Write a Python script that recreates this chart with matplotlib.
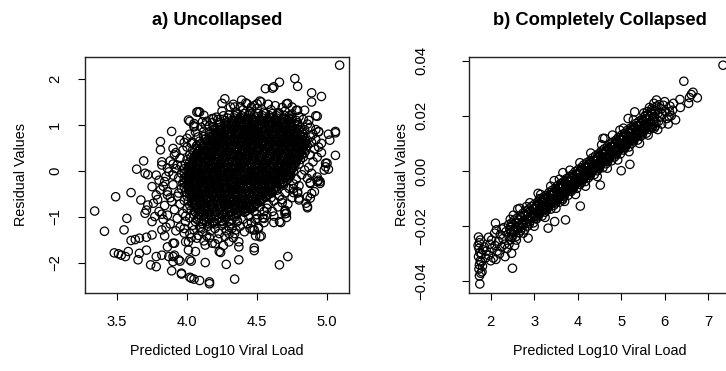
import numpy as np
import matplotlib
matplotlib.use("Agg")
import matplotlib.pyplot as plt

plt.rcParams["font.family"] = ["Liberation Sans", "DejaVu Sans"]

# ---------------- panel a: uncollapsed ----------------
# dense core of the cloud: one row per residual level,
# predicted values in hundredths of a log10 unit
a_core_y = [-1.15, -1.10, -1.05, -1.00, -0.95, -0.90, -0.85, -0.80, -0.75, -0.70,
            -0.65, -0.60, -0.55, -0.50, -0.45, -0.40, -0.35, -0.30, -0.25, -0.20,
            -0.15, -0.10, -0.05, 0.00, 0.05, 0.10, 0.15, 0.20, 0.25, 0.30,
            0.35, 0.40, 0.45, 0.50, 0.55, 0.60, 0.65, 0.70, 0.75, 0.80,
            0.85, 0.90, 0.95, 1.00, 1.05, 1.10, 1.15, 1.20, 1.25]
a_core_x = [
    [411, 416, 420, 426],
    [410, 414, 419, 425, 430],
    [407, 412, 416, 422, 427, 432],
    [408, 413, 417, 423, 428, 434],
    [405, 409, 415, 420, 425, 431, 435],
    [406, 411, 416, 421, 427, 431, 436, 441],
    [403, 408, 412, 418, 423, 428, 434, 438, 443],
    [405, 410, 415, 419, 425, 430, 435, 441, 445],
    [402, 406, 411, 417, 422, 427, 433, 437, 442, 448],
    [404, 409, 413, 419, 424, 429, 435, 439, 444, 450],
    [401, 406, 410, 416, 421, 426, 432, 436, 441, 447, 452],
    [403, 408, 413, 417, 423, 428, 433, 438, 444, 449, 454],
    [400, 404, 409, 415, 420, 425, 431, 435, 440, 446, 451, 456],
    [402, 407, 411, 417, 422, 427, 433, 437, 442, 448, 453, 458],
    [399, 403, 408, 414, 419, 424, 430, 434, 439, 445, 450, 455, 460],
    [401, 406, 410, 416, 421, 426, 432, 436, 441, 447, 452, 457, 462],
    [398, 402, 407, 413, 418, 423, 429, 433, 438, 444, 449, 454, 459, 464],
    [400, 405, 409, 415, 420, 425, 431, 435, 440, 446, 451, 456, 461, 466],
    [398, 402, 407, 413, 418, 423, 429, 433, 438, 444, 449, 454, 459, 464, 469],
    [400, 405, 409, 415, 420, 425, 431, 435, 440, 446, 451, 456, 462, 466, 471],
    [398, 402, 407, 413, 418, 423, 429, 433, 438, 444, 449, 454, 460, 465, 470],
    [400, 405, 410, 414, 420, 425, 430, 436, 440, 445, 451, 456, 461, 466, 471, 474],
    [398, 403, 407, 413, 418, 423, 429, 433, 438, 444, 449, 454, 460, 464, 469, 474],
    [400, 405, 410, 414, 420, 425, 430, 436, 440, 445, 451, 456, 461, 467, 471, 476],
    [398, 403, 407, 413, 418, 423, 429, 433, 438, 444, 449, 454, 460, 465, 470, 475],
    [401, 406, 411, 415, 421, 426, 431, 437, 441, 446, 452, 457, 462, 468, 472, 477],
    [399, 404, 408, 414, 419, 424, 430, 434, 439, 445, 450, 455, 461, 466, 471, 476, 480],
    [402, 407, 412, 416, 422, 427, 432, 438, 442, 447, 453, 458, 463, 469, 473, 478],
    [400, 405, 409, 415, 420, 425, 431, 435, 440, 446, 451, 456, 462, 467, 472, 477, 481],
    [403, 408, 413, 417, 423, 428, 433, 439, 443, 448, 454, 459, 464, 470, 474, 479, 483],
    [402, 407, 411, 417, 422, 427, 433, 437, 442, 448, 453, 458, 464, 468, 473, 478, 482],
    [405, 410, 415, 419, 425, 430, 435, 441, 445, 450, 456, 461, 466, 472, 476, 481, 484],
    [404, 409, 413, 419, 424, 429, 435, 439, 444, 450, 455, 460, 466, 470, 475, 480, 485],
    [407, 412, 417, 421, 427, 432, 437, 443, 447, 452, 458, 463, 468, 474, 478, 483],
    [407, 412, 416, 422, 427, 432, 438, 442, 447, 453, 458, 463, 469, 473, 478, 483, 486],
    [410, 415, 420, 424, 430, 435, 440, 446, 450, 455, 461, 466, 471, 477, 481, 485],
    [409, 414, 418, 424, 429, 434, 440, 444, 449, 455, 460, 465, 471, 475, 480, 485],
    [413, 418, 423, 427, 433, 438, 443, 449, 453, 458, 464, 469, 474, 480, 484],
    [412, 417, 421, 427, 432, 437, 443, 447, 452, 458, 463, 468, 474, 478, 483],
    [416, 421, 426, 430, 436, 441, 446, 452, 456, 461, 467, 472, 477, 483],
    [416, 421, 425, 431, 436, 441, 447, 451, 456, 462, 467, 472, 478, 482],
    [419, 424, 429, 433, 439, 444, 449, 455, 459, 464, 470, 475, 480, 484],
    [419, 424, 428, 434, 439, 444, 450, 454, 459, 465, 470, 475, 481],
    [423, 428, 433, 437, 443, 448, 453, 459, 463, 468, 474, 479],
    [423, 428, 432, 438, 443, 448, 454, 458, 463, 469, 474, 479],
    [427, 432, 437, 441, 447, 452, 457, 463, 467, 472, 478],
    [429, 434, 438, 444, 449, 454, 460, 464, 469, 475],
    [434, 439, 444, 448, 454, 459, 464, 470, 473],
    [436, 441, 445, 451, 456, 461, 466],
]

# the darkest part of the cloud, rows lying between the ones above
a_dark_y = [-0.875, -0.825, -0.775, -0.725, -0.675, -0.625, -0.575, -0.525, -0.475, -0.425,
            -0.375, -0.325, -0.275, -0.225, -0.175, -0.125, -0.075, -0.025, 0.025, 0.075,
            0.125, 0.175, 0.225, 0.275, 0.325, 0.375, 0.425, 0.475, 0.525, 0.575,
            0.625, 0.675, 0.725, 0.775, 0.825, 0.875, 0.925, 0.975, 1.025, 1.075, 1.125]
a_dark_x = [
    [409, 415, 420, 426, 431, 437, 442],
    [408, 413, 419, 424, 430, 435, 440, 445],
    [407, 412, 418, 423, 429, 434, 439, 444, 448],
    [406, 411, 417, 422, 428, 433, 438, 443, 449],
    [405, 410, 416, 421, 427, 432, 437, 442, 448, 452],
    [404, 409, 415, 420, 426, 431, 436, 441, 447, 453],
    [404, 408, 414, 419, 425, 430, 435, 440, 446, 452, 456],
    [403, 408, 413, 418, 424, 429, 434, 439, 445, 451, 457],
    [403, 407, 413, 418, 423, 429, 434, 439, 444, 450, 455, 460],
    [402, 407, 412, 417, 423, 428, 433, 438, 444, 449, 455, 460],
    [402, 406, 412, 417, 422, 428, 433, 438, 443, 449, 454, 459, 463],
    [402, 406, 411, 416, 422, 427, 432, 438, 443, 448, 454, 459, 464],
    [401, 406, 411, 416, 421, 427, 432, 437, 443, 448, 453, 459, 464, 468],
    [401, 406, 410, 416, 421, 426, 432, 437, 442, 448, 453, 458, 463, 469],
    [401, 405, 410, 415, 421, 426, 431, 437, 442, 447, 453, 458, 463, 468, 472],
    [401, 406, 410, 415, 420, 426, 431, 436, 442, 447, 452, 458, 463, 468, 473],
    [401, 405, 410, 415, 420, 425, 431, 436, 441, 447, 452, 457, 463, 468, 473],
    [402, 406, 410, 415, 420, 425, 430, 436, 441, 446, 452, 457, 462, 468, 473],
    [402, 407, 411, 416, 421, 426, 432, 437, 442, 448, 453, 458, 464, 469, 474],
    [403, 407, 412, 417, 422, 427, 433, 438, 443, 449, 454, 459, 465, 470, 475],
    [403, 408, 412, 418, 423, 428, 434, 439, 444, 450, 455, 460, 466, 471, 476],
    [404, 408, 413, 418, 424, 429, 435, 440, 445, 450, 456, 461, 466, 472, 477],
    [405, 409, 414, 419, 425, 430, 436, 441, 446, 451, 457, 462, 467, 473, 478],
    [405, 410, 415, 420, 426, 431, 436, 442, 447, 452, 458, 463, 468, 474, 479],
    [406, 411, 416, 421, 426, 432, 437, 443, 448, 453, 459, 464, 469, 474, 480],
    [407, 412, 417, 422, 427, 433, 438, 443, 449, 454, 459, 465, 470, 475, 480],
    [408, 413, 418, 423, 428, 434, 439, 444, 450, 455, 460, 466, 471, 476, 481],
    [409, 414, 419, 424, 430, 435, 440, 445, 451, 456, 461, 467, 472, 477, 482],
    [411, 416, 421, 426, 431, 436, 442, 447, 452, 458, 463, 468, 473, 478, 483],
    [412, 417, 422, 427, 433, 438, 443, 448, 454, 459, 464, 469, 475, 480, 484],
    [414, 419, 424, 429, 434, 439, 445, 450, 455, 460, 466, 471, 476, 481],
    [415, 420, 426, 431, 436, 441, 446, 452, 457, 462, 467, 473, 478, 482],
    [417, 422, 427, 433, 438, 443, 448, 453, 459, 464, 469, 474, 479],
    [419, 424, 429, 434, 440, 445, 450, 455, 461, 466, 471, 476, 481],
    [421, 426, 431, 437, 442, 447, 452, 457, 463, 468, 473, 478],
    [423, 428, 433, 439, 444, 449, 454, 459, 465, 470, 475, 480],
    [425, 430, 436, 441, 446, 451, 456, 462, 467, 472, 477],
    [428, 433, 438, 443, 448, 454, 459, 464, 469, 474, 479],
    [430, 435, 441, 446, 451, 456, 461, 467, 472, 477],
    [433, 438, 443, 449, 454, 459, 464, 469, 474],
    [437, 442, 447, 452, 458, 463, 468, 473],
]

# thinner ring of points around the core
a_fringe = [
    (3.88, 0.22), (3.92, 0.05), (3.95, 0.28), (3.87, -0.02), (3.94, -0.15), (3.90, -0.30),
    (3.96, -0.38), (3.86, -0.45), (3.93, -0.55), (3.89, -0.66), (3.95, -0.72), (3.84, -0.75),
    (3.91, -0.84), (3.97, -0.92), (3.86, -0.96), (3.93, -1.03), (3.99, -1.10), (3.88, -1.15),
    (3.95, -1.22), (3.83, -1.05), (3.80, -0.88), (3.79, -0.62), (3.83, -0.33), (3.85, -0.12),
    (3.80, -0.20), (3.96, 0.12), (3.92, 0.40), (3.88, -0.58), (3.82, -0.94), (3.92, -1.30),
    (3.98, -1.35), (3.85, -1.22), (3.76, -0.70), (3.78, -0.52), (3.94, -0.48), (3.96, -0.05),
    (3.90, 0.15), (3.98, -1.25),
    (4.04, -1.18), (4.09, -1.22), (4.15, -1.20), (4.20, -1.25), (4.25, -1.18), (4.32, -1.15),
    (4.38, -1.20), (4.43, -1.14), (4.05, -1.28), (4.11, -1.32), (4.17, -1.30), (4.23, -1.36),
    (4.28, -1.30), (4.35, -1.28), (4.41, -1.32), (4.08, -1.40), (4.16, -1.45), (4.22, -1.48),
    (4.27, -1.42), (4.33, -1.45), (4.12, -1.52), (4.20, -1.58), (4.26, -1.62), (4.03, -1.45),
    (4.40, -1.05), (4.46, -1.12), (4.44, -0.98), (4.19, -1.12), (4.25, -1.08),
    (4.50, -0.95), (4.55, -0.88), (4.58, -0.72), (4.62, -0.65), (4.66, -0.55), (4.70, -0.48),
    (4.73, -0.38), (4.76, -0.28), (4.52, -0.78), (4.57, -0.96), (4.60, -0.58), (4.64, -0.42),
    (4.68, -0.62), (4.72, -0.72), (4.75, -0.58), (4.78, -0.18), (4.80, -0.32), (4.62, -0.98),
    (4.48, -0.88), (4.54, -1.02), (4.69, -0.30), (4.82, -0.08), (4.84, 0.02),
    (4.30, 1.22), (4.35, 1.28), (4.40, 1.33), (4.45, 1.30), (4.50, 1.36), (4.55, 1.28),
    (4.60, 1.33), (4.65, 1.27), (4.70, 1.30), (4.75, 1.24), (4.80, 1.18), (4.38, 1.40),
    (4.48, 1.42), (4.58, 1.45), (4.68, 1.38), (4.78, 1.32), (4.25, 1.30), (4.42, 1.48),
    (4.63, 1.42), (4.73, 1.15), (4.83, 1.12), (4.52, 1.52), (4.33, 1.45),
    (4.88, 0.95), (4.90, 0.80), (4.89, 0.62), (4.91, 0.48), (4.88, 0.35), (4.90, 0.20),
    (4.87, 0.08), (4.92, 0.68), (4.93, 0.30), (4.86, 1.02), (4.92, 0.90), (4.89, -0.05),
    (4.94, 0.52),
    (4.00, 0.52), (4.04, 0.62), (4.08, 0.74), (4.12, 0.86), (4.16, 0.98), (4.06, 0.85),
    (4.10, 0.95), (4.14, 1.08), (3.98, 0.62), (4.02, 0.80), (4.18, 1.05), (4.22, 1.12),
    (3.97, 0.45), (4.07, 0.55), (4.20, 0.92), (4.26, 1.20),
    (4.02, -1.02), (4.06, -1.10), (4.12, -1.06), (4.18, -1.14), (4.30, -1.22), (4.36, -1.08),
    (4.00, -0.82), (3.98, -0.64), (3.97, -0.26), (4.10, -1.24), (4.34, -1.36), (3.99, -0.98),
]

# isolated points outside the cloud
a_outliers = [
    (5.09, 2.30), (4.56, 1.79), (4.62, 1.83), (4.61, 1.80), (4.66, 1.93), (4.77, 2.01),
    (4.79, 1.84), (4.89, 1.70), (4.89, 1.50), (4.96, 1.62), (4.93, 1.19), (4.94, 0.85),
    (5.01, 0.80), (5.06, 0.83), (5.02, 0.67), (4.96, 0.60), (5.06, 0.34), (4.96, 0.40),
    (4.84, 1.32), (4.79, 1.32), (4.75, 1.39), (4.71, 1.46), (4.53, 1.50), (4.50, 1.46),
    (4.87, 1.10), (4.88, 0.74),
    (4.27, 1.57), (4.39, 1.54), (4.31, 1.39), (4.09, 1.28), (4.07, 1.28), (4.12, 1.21),
    (4.01, 1.11), (4.05, 1.03), (4.05, 0.98), (4.11, 1.07), (4.18, 1.14), (4.21, 1.17),
    (4.34, 1.39), (4.43, 1.46), (4.46, 1.39), (4.25, 1.47), (4.08, 1.29), (4.02, 1.08),
    (4.05, 0.96), (3.89, 0.86), (3.81, 0.64), (3.81, 0.46), (3.90, 0.49), (3.95, 0.67),
    (4.00, 0.71), (3.69, 0.22), (3.64, 0.04), (4.13, 1.00), (4.19, 1.14), (4.12, 0.75),
    (3.91, 0.35), (4.03, 0.60), (3.82, 0.20), (3.82, 0.13), (3.78, -0.09), (3.86, 0.06),
    (3.93, 0.13), (3.90, -0.09), (3.84, -0.23), (3.75, -0.34), (3.60, -0.47), (3.49, -0.56),
    (3.81, -0.41), (3.86, -0.52), (3.70, -0.05), (3.72, -0.08),
    (3.34, -0.87), (3.41, -1.31), (3.57, -1.03), (3.55, -1.28), (3.67, -0.63), (3.72, -0.74),
    (3.71, -0.85), (3.70, -0.92), (3.75, -1.10), (3.77, -0.99), (3.60, -1.51), (3.63, -1.49),
    (3.66, -1.46), (3.71, -1.44), (3.75, -1.39), (3.82, -1.28), (3.84, -1.41), (3.90, -1.57),
    (3.48, -1.78), (3.51, -1.80), (3.53, -1.83), (3.56, -1.86), (3.58, -1.75), (3.65, -1.93),
    (3.66, -1.79), (3.71, -1.72), (3.78, -1.86), (3.82, -1.83), (3.74, -2.04), (3.78, -2.08),
    (3.87, -1.86), (3.91, -1.83), (3.90, -1.97), (3.94, -1.93), (3.89, -2.17), (3.96, -2.22),
    (4.03, -2.33), (4.02, -1.93), (3.86, -1.65), (3.99, -1.54), (4.01, -1.72),
    (4.16, -2.41), (4.16, -2.45), (4.09, -2.38), (4.05, -2.35), (4.02, -2.31), (3.96, -2.24),
    (4.34, -2.35), (4.28, -2.03), (4.37, -1.93), (4.48, -1.73), (4.13, -1.99), (4.03, -1.96),
    (3.95, -1.96), (4.23, -1.75), (4.24, -1.77), (4.37, -1.65), (4.37, -1.54), (4.30, -1.54),
    (3.90, -1.86), (4.13, -1.61), (4.06, -1.75), (4.49, -1.41), (4.52, -1.43), (4.51, -1.25),
    (4.51, -1.22), (4.45, -1.25), (4.30, -1.36), (4.32, -1.25), (4.36, -1.10), (4.49, -1.05),
    (4.55, -1.03), (4.18, -1.57), (4.14, -1.41), (4.07, -1.46), (4.01, -1.54), (4.02, -1.36),
    (3.91, -1.57),
    (4.66, -2.04), (4.72, -1.86), (4.48, -1.28), (4.55, -1.12), (4.62, -1.12), (4.67, -1.12),
    (4.71, -1.01), (4.71, -0.92), (4.70, -0.85), (4.68, -0.69), (4.65, -0.78), (4.57, -0.81),
    (4.86, -0.80), (4.85, -0.70), (4.88, -0.59), (4.91, -0.45), (4.86, -0.56), (4.80, -0.59),
    (4.79, -0.48), (4.76, -0.38), (4.88, -0.25), (4.94, -0.20), (4.95, -0.27), (4.93, -0.13),
    (4.99, 0.09), (4.99, 0.17), (5.01, 0.04), (4.86, -0.16), (5.00, 0.17), (4.98, 0.02),
    (4.95, -0.23), (4.93, -0.23), (4.88, -0.27), (4.86, -0.77), (4.80, -0.63), (4.79, -0.45),
    (4.76, -0.47), (4.89, -0.49), (4.70, -0.88), (4.70, -0.93), (4.66, -1.10), (4.50, -1.03),
    (4.53, -1.41), (4.47, -1.28), (4.61, -0.88), (4.48, -1.67),
    (4.94, 0.86), (5.06, 0.86), (4.72, 1.47), (4.92, 1.20),
]

# ---------------- panel b: completely collapsed ----------------
b_core = [
    (2.41, -.0195), (2.42, -.0237), (2.44, -.0213), (2.45, -.0249), (2.46, -.0202), (2.47, -.0224), (2.48, -.0188), (2.49, -.0241),
    (2.50, -.0232), (2.51, -.0194), (2.53, -.0215), (2.54, -.0178), (2.55, -.0221), (2.57, -.0203), (2.58, -.0238), (2.59, -.0186),
    (2.61, -.0170), (2.62, -.0212), (2.64, -.0188), (2.65, -.0224), (2.66, -.0177), (2.67, -.0199), (2.68, -.0163), (2.69, -.0216),
    (2.70, -.0207), (2.71, -.0169), (2.73, -.0190), (2.74, -.0153), (2.75, -.0196), (2.77, -.0178), (2.78, -.0213), (2.79, -.0161),
    (2.81, -.0145), (2.82, -.0187), (2.84, -.0163), (2.85, -.0199), (2.86, -.0152), (2.87, -.0174), (2.88, -.0138), (2.89, -.0191),
    (2.90, -.0182), (2.91, -.0144), (2.93, -.0165), (2.94, -.0128), (2.95, -.0171), (2.97, -.0153), (2.98, -.0188), (2.99, -.0136),
    (3.01, -.0120), (3.02, -.0162), (3.04, -.0138), (3.05, -.0174), (3.06, -.0127), (3.07, -.0149), (3.08, -.0113), (3.09, -.0166),
    (3.10, -.0157), (3.11, -.0119), (3.13, -.0140), (3.14, -.0103), (3.15, -.0146), (3.17, -.0128), (3.18, -.0163), (3.19, -.0111),
    (3.21, -.0095), (3.22, -.0137), (3.24, -.0113), (3.25, -.0149), (3.26, -.0102), (3.27, -.0124), (3.28, -.0088), (3.29, -.0141),
    (3.30, -.0132), (3.31, -.0094), (3.33, -.0115), (3.34, -.0078), (3.35, -.0121), (3.37, -.0103), (3.38, -.0138), (3.39, -.0086),
    (3.41, -.0070), (3.42, -.0112), (3.44, -.0088), (3.45, -.0124), (3.46, -.0077), (3.47, -.0099), (3.48, -.0063), (3.49, -.0116),
    (3.50, -.0107), (3.51, -.0069), (3.53, -.0090), (3.54, -.0053), (3.55, -.0096), (3.57, -.0078), (3.58, -.0113), (3.59, -.0061),
    (3.61, -.0045), (3.62, -.0087), (3.64, -.0063), (3.65, -.0099), (3.66, -.0052), (3.67, -.0074), (3.68, -.0038), (3.69, -.0091),
    (3.70, -.0082), (3.71, -.0044), (3.73, -.0065), (3.74, -.0028), (3.75, -.0071), (3.77, -.0053), (3.78, -.0088), (3.79, -.0036),
    (3.81, -.0020), (3.82, -.0062), (3.84, -.0038), (3.85, -.0074), (3.86, -.0027), (3.87, -.0049), (3.88, -.0013), (3.89, -.0066),
    (3.90, -.0057), (3.91, -.0019), (3.93, -.0040), (3.94, -.0003), (3.95, -.0046), (3.97, -.0028), (3.98, -.0063), (3.99, -.0011),
    (4.01, .0005), (4.02, -.0037), (4.04, -.0013), (4.05, -.0049), (4.06, -.0002), (4.07, -.0024), (4.08, .0012), (4.09, -.0041),
    (4.10, -.0032), (4.11, .0006), (4.13, -.0015), (4.14, .0022), (4.15, -.0021), (4.17, -.0003), (4.18, -.0038), (4.19, .0014),
    (4.21, .0030), (4.22, -.0012), (4.24, .0012), (4.25, -.0024), (4.26, .0023), (4.27, .0001), (4.28, .0037), (4.29, -.0016),
    (4.30, -.0007), (4.31, .0031), (4.33, .0010), (4.34, .0047), (4.35, .0004), (4.37, .0022), (4.38, -.0013), (4.39, .0039),
    (4.41, .0055), (4.42, .0013), (4.44, .0037), (4.45, .0001), (4.46, .0048), (4.47, .0026), (4.48, .0062), (4.49, .0009),
    (4.50, .0018), (4.51, .0056), (4.53, .0035), (4.54, .0072), (4.55, .0029), (4.57, .0047), (4.58, .0012), (4.59, .0064),
    (4.61, .0080), (4.62, .0038), (4.64, .0062), (4.65, .0026), (4.66, .0073), (4.67, .0051), (4.68, .0087), (4.69, .0034),
    (4.70, .0043), (4.71, .0081), (4.73, .0060), (4.74, .0097), (4.75, .0054), (4.77, .0072), (4.78, .0037), (4.79, .0089),
    (4.81, .0105), (4.82, .0063), (4.84, .0087), (4.85, .0051), (4.86, .0098), (4.87, .0076), (4.88, .0112), (4.89, .0059),
    (4.90, .0068), (4.91, .0106), (4.93, .0085), (4.94, .0122), (4.95, .0079), (4.97, .0097), (4.98, .0062), (4.99, .0114),
    (5.01, .0130), (5.02, .0088), (5.04, .0112), (5.05, .0076), (5.06, .0123), (5.07, .0101), (5.08, .0137), (5.09, .0084),
    (5.10, .0093), (5.11, .0131), (5.13, .0110), (5.14, .0147), (5.15, .0104), (5.17, .0122), (5.18, .0087), (5.19, .0139),
    (5.21, .0155), (5.22, .0113), (5.24, .0137), (5.25, .0101), (5.26, .0148), (5.27, .0126), (5.28, .0162), (5.29, .0109),
    (5.30, .0118), (5.31, .0156), (5.33, .0135), (5.34, .0172), (5.35, .0129), (5.37, .0147), (5.38, .0112), (5.39, .0164),
    (5.41, .0180), (5.42, .0138), (5.44, .0162), (5.45, .0126), (5.46, .0173), (5.47, .0151), (5.48, .0187), (5.49, .0134),
    (5.50, .0143), (5.51, .0181), (5.53, .0160), (5.54, .0197), (5.55, .0154), (5.57, .0172), (5.58, .0137), (5.59, .0189),
    (5.61, .0205), (5.62, .0163), (5.64, .0187), (5.65, .0151), (5.66, .0198), (5.67, .0176), (5.68, .0212), (5.69, .0159),
    (5.70, .0168), (5.71, .0206), (5.73, .0185), (5.74, .0222), (5.75, .0179), (5.77, .0197), (5.78, .0162), (5.79, .0214),
]

# extra points in the thickest stretch of the band
b_dark = [
    (3.02, -.0134), (3.04, -.0165), (3.06, -.0124), (3.09, -.0152),
    (3.12, -.0121), (3.14, -.0152), (3.16, -.0111), (3.19, -.0139),
    (3.22, -.0109), (3.24, -.0140), (3.26, -.0099), (3.29, -.0127),
    (3.32, -.0096), (3.34, -.0127), (3.36, -.0086), (3.39, -.0114),
    (3.42, -.0084), (3.44, -.0115), (3.46, -.0074), (3.49, -.0102),
    (3.52, -.0071), (3.54, -.0102), (3.56, -.0061), (3.59, -.0089),
    (3.62, -.0059), (3.64, -.0090), (3.66, -.0049), (3.69, -.0077),
    (3.72, -.0046), (3.74, -.0077), (3.76, -.0036), (3.79, -.0064),
    (3.82, -.0034), (3.84, -.0065), (3.86, -.0024), (3.89, -.0052),
    (3.92, -.0021), (3.94, -.0052), (3.96, -.0011), (3.99, -.0039),
    (4.02, -.0009), (4.04, -.0040), (4.06, .0001), (4.09, -.0027),
    (4.12, .0004), (4.14, -.0027), (4.16, .0014), (4.19, -.0014),
    (4.22, .0016), (4.24, -.0015), (4.26, .0026), (4.29, -.0002),
    (4.32, .0029), (4.34, -.0002), (4.36, .0039), (4.39, .0011),
    (4.42, .0041), (4.44, .0010), (4.46, .0051), (4.49, .0023),
    (4.52, .0054), (4.54, .0023), (4.56, .0064), (4.59, .0036),
    (4.62, .0066), (4.64, .0035), (4.66, .0076), (4.69, .0048),
    (4.72, .0079), (4.74, .0048), (4.76, .0089), (4.79, .0061),
    (4.82, .0091), (4.84, .0060), (4.86, .0101), (4.89, .0073),
    (4.92, .0104), (4.94, .0073), (4.96, .0114), (4.99, .0086),
    (5.02, .0116), (5.04, .0085), (5.06, .0126), (5.09, .0098),
    (5.12, .0129), (5.14, .0098), (5.16, .0139), (5.19, .0111),
    (5.22, .0141), (5.24, .0110), (5.26, .0151), (5.29, .0123),
    (5.32, .0154), (5.34, .0123), (5.36, .0164), (5.39, .0136),
    (5.42, .0166), (5.44, .0135), (5.46, .0176), (5.49, .0148),
    (5.52, .0179), (5.54, .0148), (5.56, .0189), (5.59, .0161),
]

b_fringe = [
    (1.72, -.0239), (1.74, -.0260), (1.73, -.0280), (1.75, -.0295), (1.72, -.0310), (1.76, -.0325),
    (1.74, -.0340), (1.73, -.0355), (1.77, -.0370), (1.75, -.0409), (1.78, -.0330), (1.80, -.0365),
    (1.79, -.0300), (1.82, -.0285), (1.71, -.0270), (1.76, -.0250), (1.81, -.0345), (1.74, -.0380),
    (2.11, -.0189), (2.13, -.0213), (2.09, -.0225), (2.22, -.0231), (2.02, -.0250), (2.48, -.0298),
    (2.50, -.0352), (2.59, -.0250), (2.86, -.0243),
    (1.85, -.0275), (1.90, -.0290), (1.95, -.0305), (1.98, -.0265), (2.03, -.0280), (2.06, -.0315),
    (2.10, -.0270), (2.15, -.0290), (2.18, -.0255), (2.20, -.0300), (2.25, -.0275), (2.28, -.0245),
    (2.32, -.0265), (2.35, -.0220), (2.30, -.0205), (2.26, -.0210), (2.38, -.0280), (2.42, -.0265),
    (2.45, -.0175), (2.52, -.0160), (2.55, -.0270), (2.33, -.0310), (2.12, -.0320), (1.95, -.0240),
    (2.00, -.0325), (1.88, -.0315),
    (2.67, -.0135), (2.82, -.0129), (3.09, -.0081), (3.12, -.0100), (3.65, -.0105), (3.72, -.0177),
    (3.47, -.0183), (3.32, -.0207), (4.06, -.0127), (4.52, -.0051), (3.66, -.0006), (3.46, -.0035),
    (5.00, .0001), (5.20, .0024), (4.58, .0118), (4.62, .0118), (4.97, .0148), (5.16, .0190),
    (5.31, .0214), (5.81, .0257), (6.00, .0251), (6.08, .0170), (6.10, .0196), (6.11, .0214),
    (6.35, .0259), (6.36, .0230), (6.44, .0325), (6.57, .0266), (6.61, .0277), (6.75, .0265),
    (6.65, .0285), (6.55, .0245), (7.34, .0383),
    (5.75, .0245), (5.78, .0220), (5.82, .0235), (5.85, .0210), (5.88, .0240), (5.90, .0195),
    (5.92, .0225), (5.95, .0205), (5.97, .0238), (6.02, .0215), (6.05, .0190), (6.12, .0235),
    (6.15, .0200), (6.18, .0220), (5.80, .0175), (5.86, .0180), (5.72, .0160), (5.76, .0155),
    (5.84, .0150), (5.93, .0170), (6.20, .0245), (6.25, .0185), (5.70, .0225), (5.65, .0230),
    (5.60, .0215), (5.55, .0200),
    (2.62, -.0138), (2.75, -.0225), (2.90, -.0115), (3.00, -.0200), (3.15, -.0085), (3.25, -.0168),
    (3.38, -.0055), (3.50, -.0135), (3.58, -.0030), (3.70, -.0110), (3.82, .0003), (3.95, -.0085),
    (4.05, .0030), (4.18, -.0055), (4.30, .0065), (4.45, -.0020), (4.55, .0095), (4.68, .0010),
    (4.80, .0130), (4.92, .0040), (5.05, .0155), (5.18, .0070), (5.28, .0185), (5.42, .0100),
    (5.52, .0210), (5.62, .0130),
]

a_xticks = [3.5, 4.0, 4.5, 5.0]
a_yticks = [-2, -1, 0, 1, 2]
b_xticks = [2, 3, 4, 5, 6, 7]
b_yticks = [-0.04, -0.02, 0.00, 0.02, 0.04]


def row_points(rows_y, rows_x):
    xs, ys = [], []
    for y, row in zip(rows_y, rows_x):
        for xc in row:
            xs.append(xc / 100.0)
            ys.append(y)
    return xs, ys


def rings(ax, pts):
    x = [p[0] for p in pts]
    y = [p[1] for p in pts]
    ax.scatter(x, y, s=36, facecolors="none", edgecolors="black",
               linewidths=0.9, zorder=3)


def style(ax, title, xticks, yticks, ylabels, ypad, ylab_x):
    ax.set_title(title, fontsize=13.2, fontweight="bold", pad=23)
    ax.set_xticks(xticks)
    ax.set_yticks(yticks)
    ax.set_yticklabels(ylabels, rotation=90, va="center")
    ax.tick_params(axis="x", length=5, width=0.8, pad=11, labelsize=10.6)
    ax.tick_params(axis="y", length=5, width=0.8, pad=ypad, labelsize=10.6)
    for sp in ax.spines.values():
        sp.set_linewidth(1.0)
        sp.set_color("#222222")
    ax.set_xlabel("Predicted Log10 Viral Load", fontsize=10.4)
    ax.set_ylabel("Residual Values", fontsize=10.4)
    ax.xaxis.set_label_coords(0.5, -0.215)
    ax.yaxis.set_label_coords(ylab_x, 0.5)


fig = plt.figure(figsize=(7.26, 3.71), dpi=100)

# ---- a) ----
ax_a = fig.add_axes([85 / 726, 1 - 293 / 371, 264 / 726, 236 / 371])
cx, cy = row_points(a_core_y, a_core_x)
dx, dy = row_points(a_dark_y, a_dark_x)
rings(ax_a, list(zip(cx, cy)))
rings(ax_a, list(zip(dx, dy)))
rings(ax_a, a_fringe)
rings(ax_a, a_outliers)
ax_a.set_xlim(3.271, 5.157)
ax_a.set_ylim(-2.652, 2.478)
style(ax_a, "a) Uncollapsed", a_xticks, a_yticks,
      ["\u22122", "\u22121", "0", "1", "2"], 11.5, -0.215)
ax_a.set_xticklabels(["3.5", "4.0", "4.5", "5.0"])

# ---- b) ----
ax_b = fig.add_axes([469 / 726, 1 - 293 / 371, 262 / 726, 236 / 371])
rings(ax_b, b_core)
rings(ax_b, b_dark)
rings(ax_b, b_fringe)
ax_b.set_xlim(1.501, 7.524)
ax_b.set_ylim(-0.04417, 0.04127)
style(ax_b, "b) Completely Collapsed", b_xticks, b_yticks,
      ["\u22120.04", "\u22120.02", "0.00", "0.02", "0.04"], 24, -0.23)

fig.savefig("out.png", dpi=100)
